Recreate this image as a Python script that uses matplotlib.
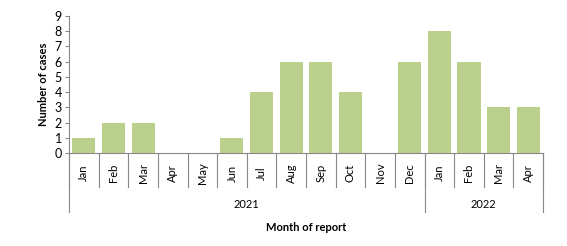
import matplotlib
matplotlib.use('Agg')
import matplotlib.pyplot as plt
import numpy as np

months = ['Jan', 'Feb', 'Mar', 'Apr', 'May', 'Jun', 'Jul', 'Aug', 'Sep', 'Oct', 'Nov', 'Dec',
          'Jan', 'Feb', 'Mar', 'Apr']
cases = [1, 2, 2, 0, 0, 1, 4, 6, 6, 4, 0, 6, 8, 6, 3, 3]
years = ['2021', '2022']
year_counts = [12, 4]

plt.rcParams['font.family'] = ['Lato', 'DejaVu Sans']

fig = plt.figure(figsize=(5.67, 2.46), dpi=100)
ax = fig.add_axes([0.1217, 0.378, 0.836, 0.557])

x = np.arange(len(months))
ax.bar(x, cases, width=0.78, color='#BBD08D')

ax.set_xlim(-0.5, len(months) - 0.5)
ax.set_ylim(0, 9)
ax.set_yticks(range(10))
ax.tick_params(axis='y', labelsize=9, length=3, color='#888888', pad=2)
ax.set_xticks([])
for s in ['top', 'right']:
    ax.spines[s].set_visible(False)
for s in ['left', 'bottom']:
    ax.spines[s].set_color('#888888')
ax.set_ylabel('Number of cases', fontsize=8, fontweight='bold', labelpad=4)

trans = ax.get_xaxis_transform()
ax_h = 0.557 * 246
month_depth = 34 / ax_h
year_depth = 59 / ax_h

for i in range(len(months) + 1):
    ax.plot([i - 0.5, i - 0.5], [0, -month_depth], transform=trans, color='#888888',
            lw=0.8, clip_on=False)
for i, m in enumerate(months):
    ax.text(i, -20 / ax_h, m, transform=trans, rotation=90, ha='center', va='center',
            fontsize=8)

start = 0
edges = [0]
for y, n in zip(years, year_counts):
    mid = start + n / 2 - 0.5
    ax.text(mid, -51 / ax_h, y, transform=trans, ha='center', va='center', fontsize=8)
    start += n
    edges.append(start)
for e in edges:
    ax.plot([e - 0.5, e - 0.5], [0, -year_depth], transform=trans, color='#888888',
            lw=0.8, clip_on=False)

ax.text((len(months) - 1) / 2, -74 / ax_h, 'Month of report', transform=trans,
        ha='center', va='center', fontsize=8, fontweight='bold')

fig.savefig('out.png', dpi=100)
